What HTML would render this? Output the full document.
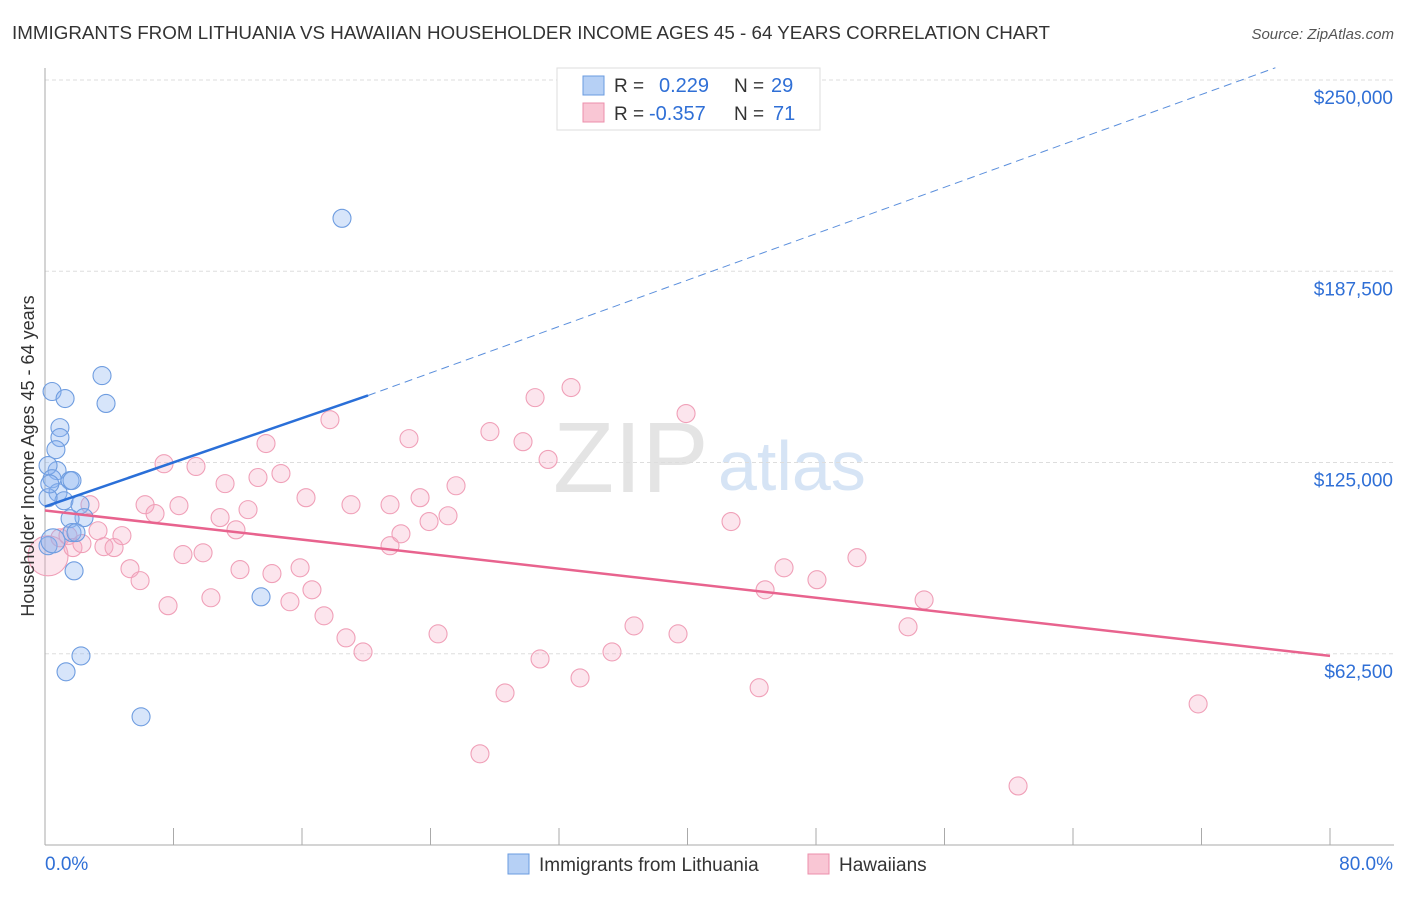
<!DOCTYPE html>
<html><head><meta charset="utf-8"><style>
body{margin:0;background:#fff;font-family:"Liberation Sans",sans-serif;}
svg text{font-family:"Liberation Sans",sans-serif;}
</style></head><body>
<svg width="1406" height="892" xmlns="http://www.w3.org/2000/svg">
<text x="12" y="39" font-size="18" fill="#333" textLength="1038" lengthAdjust="spacingAndGlyphs">IMMIGRANTS FROM LITHUANIA VS HAWAIIAN HOUSEHOLDER INCOME AGES 45 - 64 YEARS CORRELATION CHART</text>
<text x="1394" y="39" font-size="15" fill="#555" text-anchor="end" font-style="italic">Source: ZipAtlas.com</text>
<text x="553" y="492" font-size="100" fill="#e4e4e4" font-family="Liberation Serif">ZIP</text>
<text x="718" y="490" font-size="70" fill="#d6e4f5">atlas</text>
<g id="grid"></g>
<g id="axes"></g>
<g id="marks"></g>
<text transform="translate(34,456) rotate(-90)" font-size="18" fill="#333" text-anchor="middle">Householder Income Ages 45 - 64 years</text>
<g>
<rect x="557" y="68" width="263" height="62" fill="#fff" stroke="#ddd"/>
<rect x="583" y="76" width="21" height="19" fill="#b6d0f5" stroke="#6a9be0"/>
<rect x="583" y="103" width="21" height="19" fill="#f9c6d4" stroke="#ec8fab"/>
<text x="614" y="92" font-size="19" fill="#333">R = </text><text x="659" y="92" font-size="20" fill="#2f6fd6">0.229</text>
<text x="734" y="92" font-size="19" fill="#333">N = </text><text x="771" y="92" font-size="20" fill="#2f6fd6">29</text>
<text x="614" y="120" font-size="19" fill="#333">R = </text><text x="649" y="120" font-size="20" fill="#2f6fd6">-0.357</text>
<text x="734" y="120" font-size="19" fill="#333">N = </text><text x="773" y="120" font-size="20" fill="#2f6fd6">71</text>
</g>
<g>
<rect x="508" y="854" width="21" height="20" fill="#b6d0f5" stroke="#6a9be0"/>
<text x="539" y="871" font-size="19" fill="#333">Immigrants from Lithuania</text>
<rect x="808" y="854" width="21" height="20" fill="#f9c6d4" stroke="#ec8fab"/>
<text x="839" y="871" font-size="19" fill="#333">Hawaiians</text>
</g>
</svg>
<script>
const blueX=[0.44,1.25,3.55,3.80,0.93,0.93,0.68,0.75,0.19,0.44,1.56,1.68,0.81,1.18,0.19,2.18,2.43,1.56,1.68,1.93,0.19,1.81,2.24,1.31,5.98,13.45,18.49,0.5,0.3];
const blueY=[148200,145900,153400,144300,136400,133150,129200,122350,124000,119700,119100,119100,115150,112500,113500,111200,107000,106650,102100,102100,97800,89600,61800,56600,41900,81100,204800,99400,118000];
const pinkX=[0.19,0.93,1.43,1.74,2.30,2.80,3.30,3.67,4.30,4.79,5.29,5.92,6.23,6.85,7.41,7.66,8.34,8.59,9.40,9.84,10.33,10.90,11.21,11.89,12.14,12.64,13.26,13.76,14.13,14.69,15.25,15.88,16.25,16.62,17.37,17.74,18.74,19.05,19.80,21.48,21.48,22.16,22.66,23.35,23.91,24.47,25.09,25.59,27.08,27.70,28.64,29.76,30.51,30.82,31.32,32.75,33.31,35.30,36.67,39.41,39.91,42.71,44.46,44.83,46.01,48.06,50.55,53.73,54.73,60.58,71.79];
const pinkY=[94500,100400,101100,97200,98500,111200,102700,97500,97200,101100,90300,86400,111200,108300,124600,78200,110900,94900,123700,95500,80800,107000,118100,103000,90000,109600,120100,131200,88700,121400,79500,90600,113500,83400,74900,139000,67700,111200,63100,97800,111200,101700,132800,113500,105700,69000,107600,117400,29800,135100,49700,131800,146200,60800,126000,149500,54600,63100,71600,69000,141000,105700,51400,83400,90600,86700,93900,71300,80100,19300,46100];
const yTicks=[250000,187500,125000,62500];
const yTickLabels=["$250,000","$187,500","$125,000","$62,500"];
const blueTrend=[[0,110600],[20.11,146900]];
const blueTrendExt=[[20.11,146900],[76.6,254000]];
const pinkTrend=[[0,109300],[80,61800]];
const NS="http://www.w3.org/2000/svg";
const xS=v=>45+v/80*1285;
const yS=v=>845-v/250000*765;
function mk(tag,attrs,parent){const e=document.createElementNS(NS,tag);for(const k in attrs)e.setAttribute(k,attrs[k]);document.getElementById(parent).appendChild(e);return e;}
yTicks.forEach((t,i)=>{
 const l=mk('line',{x1:45,x2:1394,y1:yS(t),y2:yS(t),stroke:'#ddd','stroke-dasharray':'4,3'},'grid');
 
 
 const tx=mk('text',{x:1393,y:yS(t)+24,'font-size':19,fill:'#2f6fd6','text-anchor':'end'},'grid');
 tx.textContent=yTickLabels[i];
 
 
});
const ya=mk('line',{x1:45,x2:45,y1:68,y2:845,stroke:'#aaa'},'axes');


const xa=mk('line',{x1:45,x2:1394,y1:845,y2:845,stroke:'#aaa'},'axes');


for(let i=0;i<=10;i++){const t=mk('line',{x1:xS(i*8),x2:xS(i*8),y1:828,y2:845,stroke:'#aaa'},'axes');
 
 }
const xl0=mk('text',{x:45,y:870,'font-size':19,fill:'#2f6fd6'},'axes');xl0.textContent='0.0%';


const xl1=mk('text',{x:1393,y:870,'font-size':19,fill:'#2f6fd6','text-anchor':'end'},'axes');xl1.textContent='80.0%';


pinkX.forEach((x,i)=>{const c=mk('circle',{cx:xS(x),cy:yS(pinkY[i]),r:i===0?20:9,fill:'rgba(246,170,195,0.3)',stroke:'#f0a0b8','stroke-width':1.1},'marks');
 
 });
blueX.forEach((x,i)=>{const c=mk('circle',{cx:xS(x),cy:yS(blueY[i]),r:i===27?12:9,fill:'rgba(140,180,240,0.35)',stroke:'#6f9de0','stroke-width':1.1},'marks');
 
 });
const pl=mk('line',{x1:xS(pinkTrend[0][0]),y1:yS(pinkTrend[0][1]),x2:xS(pinkTrend[1][0]),y2:yS(pinkTrend[1][1]),stroke:'#e8638e','stroke-width':2.5},'marks');


const bl=mk('line',{x1:xS(blueTrend[0][0]),y1:yS(blueTrend[0][1]),x2:xS(blueTrend[1][0]),y2:yS(blueTrend[1][1]),stroke:'#2a6fd8','stroke-width':2.5},'marks');


const be=mk('line',{x1:xS(blueTrendExt[0][0]),y1:yS(blueTrendExt[0][1]),x2:xS(blueTrendExt[1][0]),y2:yS(blueTrendExt[1][1]),stroke:'#5b8fdc','stroke-width':1,'stroke-dasharray':'8,5'},'marks');


</script>
</body></html>
